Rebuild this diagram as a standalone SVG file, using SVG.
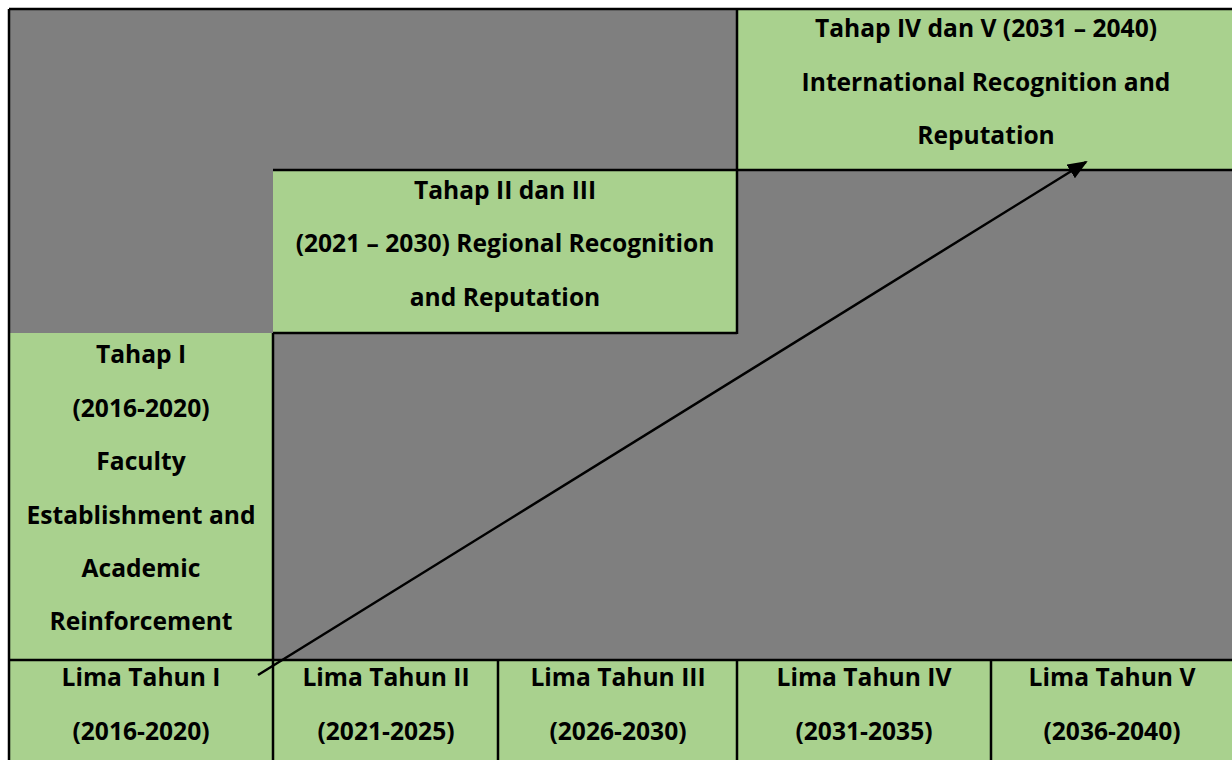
<svg xmlns="http://www.w3.org/2000/svg" width="1232" height="760" viewBox="0 0 1232 760">
<defs>
<style>
.g{fill:#A9D18E}
.d{fill:#7F7F7F}
.ln{stroke:#000;stroke-width:2.5;fill:none}
text{font-family:"Open Sans","Liberation Sans",sans-serif;font-weight:bold;font-size:24.6px;fill:#000;text-anchor:middle}
</style>
<marker id="ah2" markerWidth="20" markerHeight="16" refX="18" refY="8" orient="auto" markerUnits="userSpaceOnUse">
<path d="M0,0 L20,8 L0,16 z" fill="#000"/>
</marker>
</defs>
<rect x="0" y="0" width="1232" height="760" fill="#fff"/>
<rect class="d" x="9" y="9" width="1223" height="751"/>
<g id="stage45">
<rect class="g" x="737" y="9" width="495" height="161"/>
<text x="986" y="37">Tahap IV dan V (2031 – 2040)</text>
<text x="986" y="91">International Recognition and</text>
<text x="986" y="144">Reputation</text>
</g>
<g id="stage23">
<rect class="g" x="273" y="170" width="464" height="163"/>
<text x="505" y="199">Tahap II dan III</text>
<text x="505" y="252">(2021 – 2030) Regional Recognition</text>
<text x="505" y="306">and Reputation</text>
</g>
<g id="stage1">
<rect class="g" x="9" y="333" width="264" height="327"/>
<text x="141" y="363">Tahap I</text>
<text x="141" y="417">(2016-2020)</text>
<text x="141" y="470">Faculty</text>
<text x="141" y="524">Establishment and</text>
<text x="141" y="577">Academic</text>
<text x="141" y="630">Reinforcement</text>
</g>
<g id="year1">
<rect class="g" x="9" y="660" width="264" height="100"/>
<text x="141" y="686">Lima Tahun I</text>
<text x="141" y="740">(2016-2020)</text>
</g>
<g id="year2">
<rect class="g" x="273" y="660" width="225" height="100"/>
<text x="386" y="686">Lima Tahun II</text>
<text x="386" y="740">(2021-2025)</text>
</g>
<g id="year3">
<rect class="g" x="498" y="660" width="239" height="100"/>
<text x="618" y="686">Lima Tahun III</text>
<text x="618" y="740">(2026-2030)</text>
</g>
<g id="year4">
<rect class="g" x="737" y="660" width="254" height="100"/>
<text x="864" y="686">Lima Tahun IV</text>
<text x="864" y="740">(2031-2035)</text>
</g>
<g id="year5">
<rect class="g" x="991" y="660" width="241" height="100"/>
<text x="1112" y="686">Lima Tahun V</text>
<text x="1112" y="740">(2036-2040)</text>
</g>
<g id="borders" class="ln">
<path d="M9,9 H1232 M9,9 V760"/>
<path d="M273,170 H1232 M737,9 V334 M273,333 H737 M273,333 V760"/>
<path d="M9,660 H1232 M498,660 V760 M737,660 V760 M991,660 V760"/>
</g>
<g id="connectors">
<line x1="258" y1="675" x2="1086" y2="162" stroke="#000" stroke-width="2.5" marker-end="url(#ah2)"/>
</g>
</svg>
